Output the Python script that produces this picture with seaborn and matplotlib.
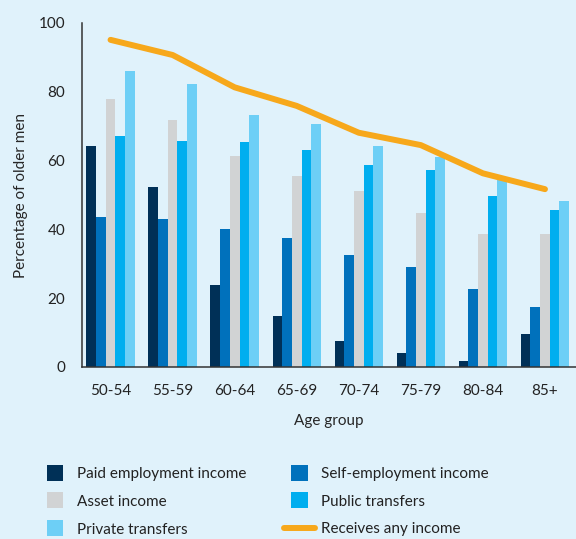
import matplotlib
matplotlib.use("Agg")
import matplotlib.pyplot as plt
import seaborn as sns
import pandas as pd
from matplotlib.legend_handler import HandlerPatch
from matplotlib.patches import Rectangle

age_groups = ["50-54", "55-59", "60-64", "65-69", "70-74", "75-79", "80-84", "85+"]
paid_employment = [64.2, 52.2, 23.9, 14.9, 7.5, 4.0, 1.8, 9.6]
self_employment = [43.7, 42.9, 40.2, 37.6, 32.6, 29.1, 22.6, 17.4]
asset_income = [77.8, 71.9, 61.2, 55.4, 51.1, 44.8, 38.7, 38.7]
public_transfers = [67.1, 65.6, 65.3, 63.1, 58.8, 57.3, 49.8, 45.6]
private_transfers = [86.0, 82.2, 73.3, 70.6, 64.2, 61.1, 54.4, 48.3]
any_income = [95.1, 90.7, 81.3, 75.9, 68.1, 64.5, 56.3, 51.7]

series_names = ["Paid employment income", "Self-employment income", "Asset income",
                "Public transfers", "Private transfers"]
series_values = [paid_employment, self_employment, asset_income, public_transfers, private_transfers]
colors = ["#003057", "#0071bc", "#d1d3d4", "#00aeef", "#6dcff6"]
line_color = "#f7a81b"
bg = "#e0f2fb"

rows = []
for name, vals in zip(series_names, series_values):
    for g, v in zip(age_groups, vals):
        rows.append({"Age group": g, "value": v, "type": name})
df = pd.DataFrame(rows)

sns.set_theme(style="white")
plt.rcParams["font.family"] = ["Lato", "DejaVu Sans"]
plt.rcParams["text.color"] = "#222222"

fig = plt.figure(figsize=(5.76, 5.39), dpi=100, facecolor=bg)
ax = fig.add_axes([82 / 576, (539 - 367) / 539, 494 / 576, (367 - 23) / 539])
ax.set_facecolor(bg)

sns.barplot(data=df, x="Age group", y="value", hue="type", hue_order=series_names,
            order=age_groups, palette=colors, width=0.78, gap=0, saturation=1,
            edgecolor="none", linewidth=0, ax=ax, legend=True, errorbar=None)
sns.lineplot(x=age_groups, y=any_income, color=line_color, linewidth=4.3,
             label="Receives any income", ax=ax, solid_capstyle="round")

ax.set_xlim(-0.46, 7.5)
ax.set_ylim(0, 100)
ax.set_yticks([0, 20, 40, 60, 80, 100])
ax.tick_params(axis="both", length=0, labelsize=11, colors="#222222")
ax.tick_params(axis="y", pad=12)
ax.tick_params(axis="x", pad=12)
for s in ["top", "right"]:
    ax.spines[s].set_visible(False)
for s in ["left", "bottom"]:
    ax.spines[s].set_color("#333333")
    ax.spines[s].set_linewidth(1.1)
ax.set_xlabel("Age group", fontsize=11, labelpad=12)
ax.set_ylabel("Percentage of older men", fontsize=11, labelpad=8)

handles, labels = ax.get_legend_handles_labels()
hmap = dict(zip(labels, handles))
ax.get_legend().remove()
order = ["Paid employment income", "Asset income", "Private transfers",
         "Self-employment income", "Public transfers", "Receives any income"]


def square_patch(legend, orig_handle, xdescent, ydescent, width, height, fontsize):
    side = min(width, height * 1.5)
    return Rectangle((xdescent + (width - side) / 2, ydescent + (height - side) / 2), side, side)


fig.legend([hmap[l] for l in order], order, ncol=2, frameon=False,
           loc="upper left", bbox_to_anchor=(40 / 576, 1 - 467 / 539),
           fontsize=11, handlelength=2.0, handletextpad=0.4, columnspacing=2.5,
           labelspacing=0.9, borderpad=0, borderaxespad=0,
           handler_map={Rectangle: HandlerPatch(patch_func=square_patch)})

fig.savefig("out.png", dpi=100, facecolor=bg)
